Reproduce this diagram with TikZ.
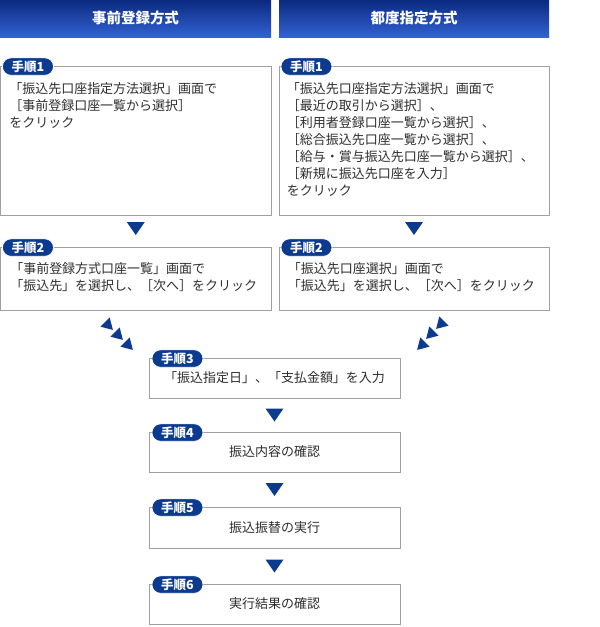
\documentclass[tikz,border=0pt]{standalone}
\usepackage{fontspec}
\setmainfont{Noto Sans CJK JP}
\usetikzlibrary{positioning, calc}
\definecolor{headtop}{HTML}{0B2A80}
\definecolor{headbot}{HTML}{3262D2}
\definecolor{stepblue}{HTML}{0B3A8F}
\definecolor{boxline}{HTML}{A0A0A0}
\definecolor{bodytext}{HTML}{2E2E2E}
\tikzset{
  head/.style={
    top color=headtop, bottom color=headbot, minimum height=37pt,
    inner sep=0pt, text=white, font=\bfseries\fontsize{14.5}{14.5}\selectfont
  },
  stepbox/.style={
    draw=boxline, line width=0.9pt, fill=white, inner sep=0pt,
    text=bodytext, font=\fontsize{13}{17}\selectfont
  },
  badge/.style={
    fill=stepblue, draw=white, line width=0.8pt, rounded corners=8.5pt,
    minimum width=51pt, minimum height=17.5pt, inner sep=0pt,
    text=white, font=\bfseries\fontsize{12.5}{12.5}\selectfont
  },
  txt/.style={
    text=bodytext, font=\fontsize{13}{17}\selectfont,
    align=left, inner sep=0pt, anchor=north west
  },
  downtri/.pic={\fill[stepblue] (-9,-6.5) -- (9,-6.5) -- (0,6.5) -- cycle;},
  slanttri/.pic={\fill[stepblue] (-6.5,-5.5) -- (6.5,-5.5) -- (0,5.5) -- cycle;},
}

\begin{document}
\begin{tikzpicture}[x=1pt, y=-1pt]
    \useasboundingbox (0,0) rectangle (600,627);

    % headers
    \node[head, minimum width=271pt] (hL) at (135.5,18.5) {事前登録方式};
    \node[head, minimum width=270pt] (hR) at (414,18.5) {都度指定方式};

    % step 1
    \node[stepbox, minimum width=270.5pt, minimum height=149pt] (s1L) at (135.75,140.5) {};
    \node[stepbox, minimum width=270pt, minimum height=149pt] (s1R) at (414,140.5) {};
    \node[badge, anchor=west] (b1L) at ([xshift=2pt,yshift=-1pt]s1L.north west) {手順1};
    \node[badge, anchor=west] (b1R) at ([xshift=2pt,yshift=-1pt]s1R.north west) {手順1};
    \node[txt] (t1L) at ([xshift=9pt,yshift=-17pt]s1L.north west)
      {「振込先口座指定方法選択」画面で\\［事前登録口座一覧から選択］\\をクリック};
    \node[txt] (t1R) at ([xshift=8pt,yshift=-16.5pt]s1R.north west)
      {「振込先口座指定方法選択」画面で\\［最近の取引から選択］、\\［利用者登録口座一覧から選択］、\\［総合振込先口座一覧から選択］、\\［給与・賞与振込先口座一覧から選択］、\\［新規に振込先口座を入力］\\をクリック};

    % step 2
    \node[stepbox, minimum width=270.5pt, minimum height=63pt] (s2L) at (135.75,278.5) {};
    \node[stepbox, minimum width=270pt, minimum height=63pt] (s2R) at (414,278.5) {};
    \node[badge, anchor=west] (b2L) at ([xshift=2pt,yshift=-1pt]s2L.north west) {手順2};
    \node[badge, anchor=west] (b2R) at ([xshift=2pt,yshift=-1pt]s2R.north west) {手順2};
    \node[txt] (t2L) at ([xshift=10pt,yshift=-15.5pt]s2L.north west)
      {「事前登録方式口座一覧」画面で\\「振込先」を選択し、［次へ］をクリック};
    \node[txt] (t2R) at ([xshift=9pt,yshift=-15.5pt]s2R.north west)
      {「振込先口座選択」画面で\\「振込先」を選択し、［次へ］をクリック};

    % common steps
    \node[stepbox, minimum width=251pt, minimum height=40pt] (s3) at (274.5,378) {「振込指定日」、「支払金額」を入力};
    \node[stepbox, minimum width=251pt, minimum height=40pt] (s4) at (274.5,452) {振込内容の確認};
    \node[stepbox, minimum width=251pt, minimum height=41pt] (s5) at (274.5,527.5) {振込振替の実行};
    \node[stepbox, minimum width=251pt, minimum height=40pt] (s6) at (274.5,604) {実行結果の確認};
    \node[badge, anchor=west] (b3) at ([xshift=3pt,yshift=-1pt]s3.north west) {手順3};
    \node[badge, anchor=west] (b4) at ([xshift=3pt,yshift=-1pt]s4.north west) {手順4};
    \node[badge, anchor=west] (b5) at ([xshift=3pt,yshift=-1pt]s5.north west) {手順5};
    \node[badge, anchor=west] (b6) at ([xshift=3pt,yshift=-1pt]s6.north west) {手順6};

    % arrow marks
    \pic at ([yshift=2.5pt]$(s1L.south)!0.5!(s2L.north)$) {downtri};
    \pic at ([yshift=2.5pt]$(s1R.south)!0.5!(s2R.north)$) {downtri};
    \pic at ($(s3.south)!0.5!(s4.north)$) {downtri};
    \pic at ($(s4.south)!0.5!(s5.north)$) {downtri};
    \pic at ($(s5.south)!0.5!(s6.north)$) {downtri};
    \pic[rotate=45] at (109,326) {slanttri};
    \pic[rotate=45] at (119,336) {slanttri};
    \pic[rotate=45] at (129,346) {slanttri};
    \pic[rotate=-45] at (440,325) {slanttri};
    \pic[rotate=-45] at (430,335) {slanttri};
    \pic[rotate=-45] at (421,346) {slanttri};
  \end{tikzpicture}
\end{document}
